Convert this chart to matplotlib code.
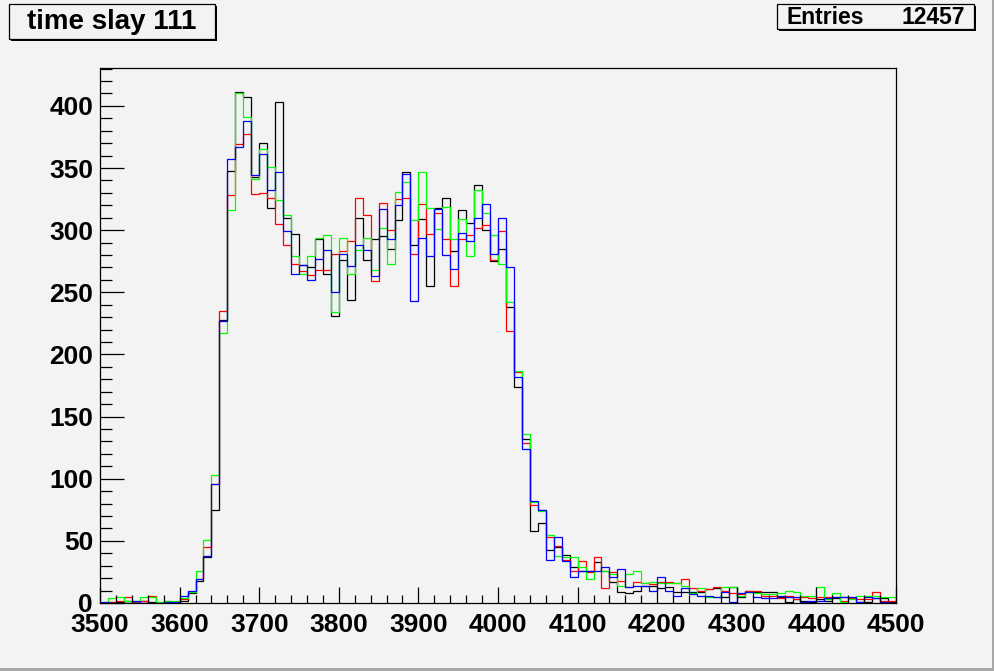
import numpy as np
import matplotlib
matplotlib.use("Agg")
import matplotlib.pyplot as plt
from matplotlib.patches import Rectangle
from matplotlib.ticker import MultipleLocator
from matplotlib import font_manager

# bins: 100 bins of width 10 from 3500 to 4500
edges = np.arange(3500, 4501, 10)

black = [0, 1, 1, 2, 1, 2, 1, 0, 1, 1,
         2, 8, 18, 37, 75, 228, 348, 411, 407, 343,
         370, 318, 403, 310, 297, 272, 270, 293, 265, 231,
         276, 244, 310, 276, 293, 295, 285, 308, 347, 288,
         309, 255, 318, 326, 283, 316, 306, 336, 300, 275,
         285, 238, 174, 132, 58, 64, 43, 45, 39, 29,
         26, 26, 33, 26, 17, 9, 8, 10, 14, 14,
         12, 13, 9, 9, 9, 9, 11, 12, 5, 13,
         5, 10, 9, 9, 9, 5, 1, 3, 2, 1,
         3, 2, 4, 5, 4, 1, 1, 4, 4, 1]

red = [0, 1, 2, 5, 1, 2, 6, 0, 2, 1,
       3, 9, 19, 45, 96, 235, 328, 369, 377, 329,
       330, 326, 305, 288, 273, 267, 264, 268, 268, 281,
       283, 291, 326, 312, 259, 322, 300, 325, 326, 281,
       321, 297, 314, 293, 255, 293, 296, 302, 304, 276,
       299, 219, 186, 129, 79, 75, 53, 46, 35, 26,
       34, 25, 37, 12, 25, 18, 13, 17, 16, 15,
       17, 17, 16, 19, 12, 10, 11, 13, 10, 8,
       7, 10, 10, 6, 6, 4, 6, 3, 5, 4,
       5, 5, 5, 2, 4, 3, 3, 9, 2, 2]

green = [0, 4, 5, 2, 2, 5, 5, 1, 2, 2,
         4, 9, 26, 51, 103, 217, 316, 410, 391, 341,
         365, 351, 324, 312, 279, 265, 279, 294, 296, 234,
         294, 265, 284, 294, 268, 302, 273, 331, 339, 308,
         347, 318, 301, 319, 293, 309, 279, 332, 314, 296,
         273, 242, 187, 136, 81, 74, 55, 38, 37, 37,
         29, 19, 26, 26, 23, 14, 23, 26, 16, 17,
         16, 16, 16, 14, 8, 12, 5, 5, 13, 13,
         6, 9, 8, 7, 7, 8, 10, 9, 6, 6,
         13, 3, 8, 1, 3, 6, 6, 6, 5, 5]

blue = [1, 0, 0, 0, 2, 0, 0, 0, 1, 1,
        6, 10, 19, 38, 96, 227, 357, 367, 388, 344,
        361, 332, 347, 299, 265, 272, 260, 277, 284, 250,
        281, 271, 288, 284, 263, 317, 293, 320, 345, 243,
        294, 279, 317, 280, 269, 298, 291, 310, 321, 281,
        310, 270, 182, 124, 82, 75, 35, 53, 34, 21,
        26, 26, 26, 29, 21, 27, 13, 14, 14, 10,
        21, 10, 6, 12, 7, 6, 6, 5, 9, 1,
        8, 9, 5, 4, 4, 6, 5, 5, 1, 2,
        2, 4, 5, 5, 5, 1, 5, 4, 1, 0]

title = "time slay 111"
entries = 12457

names = {f.name for f in font_manager.fontManager.ttflist}
if "Liberation Sans Narrow" in names:
    fam = ["Liberation Sans Narrow", "DejaVu Sans"]
else:
    fam = ["Liberation Sans", "DejaVu Sans"]
plt.rcParams["font.family"] = fam
plt.rcParams["font.weight"] = "bold"

bg = "#f3f3f3"
fig = plt.figure(figsize=(9.95, 6.71), dpi=100, facecolor=bg)
ax = fig.add_axes([100 / 995, 1 - 603 / 671, 796 / 995, 535 / 671], facecolor=bg)

for vals, col in [(black, "black"), (red, "#ff0000"), (green, "#00ff00"), (blue, "#0000ff")]:
    ax.stairs(vals, edges, color=col, lw=0.9)

ax.set_xlim(3500, 4500)
ax.set_ylim(0, 430.5)

ax.xaxis.set_major_locator(MultipleLocator(100))
ax.xaxis.set_minor_locator(MultipleLocator(20))
ax.yaxis.set_major_locator(MultipleLocator(50))
ax.yaxis.set_minor_locator(MultipleLocator(10))
ax.tick_params(axis="x", which="major", direction="in", length=11.5, width=0.9, top=False,
               labelsize=19, pad=7)
ax.tick_params(axis="x", which="minor", direction="in", length=5.8, width=0.9, top=False)
ax.tick_params(axis="y", which="major", direction="in", length=17, width=0.9, right=False,
               labelsize=19, pad=5)
ax.tick_params(axis="y", which="minor", direction="in", length=8.5, width=0.9, right=False)
for lab in ax.get_xticklabels() + ax.get_yticklabels():
    lab.set_fontweight("bold")
for sp in ax.spines.values():
    sp.set_linewidth(0.9)

# title box
def box(x0, y0, x1, y1):
    W, H = 995, 671
    fig.patches.append(Rectangle((x0 / W + 2 / W, 1 - (y1 + 2) / H), (x1 - x0) / W, (y1 - y0) / H,
                                 transform=fig.transFigure, facecolor="black", edgecolor="none"))
    fig.patches.append(Rectangle((x0 / W, 1 - y1 / H), (x1 - x0) / W, (y1 - y0) / H,
                                 transform=fig.transFigure, facecolor=bg, edgecolor="black", lw=0.9))

box(9, 4, 215, 39)
fig.text(112 / 995, 1 - 22 / 671, title, ha="center", va="center", fontsize=20, fontweight="bold")
box(777, 4, 974, 29)
fig.text(787 / 995, 1 - 17 / 671, "Entries", ha="left", va="center", fontsize=16.5, fontweight="bold")
fig.text(965 / 995, 1 - 17 / 671, str(entries), ha="right", va="center", fontsize=16.5, fontweight="bold")

# canvas border shading
fig.patches.append(Rectangle((0, 0), 1, 3 / 671, transform=fig.transFigure,
                             facecolor="#a8a8a8", edgecolor="none"))
fig.patches.append(Rectangle((1 - 3 / 995, 0), 3 / 995, 1, transform=fig.transFigure,
                             facecolor="#a8a8a8", edgecolor="none"))

fig.savefig("out.png", dpi=100, facecolor=bg)
